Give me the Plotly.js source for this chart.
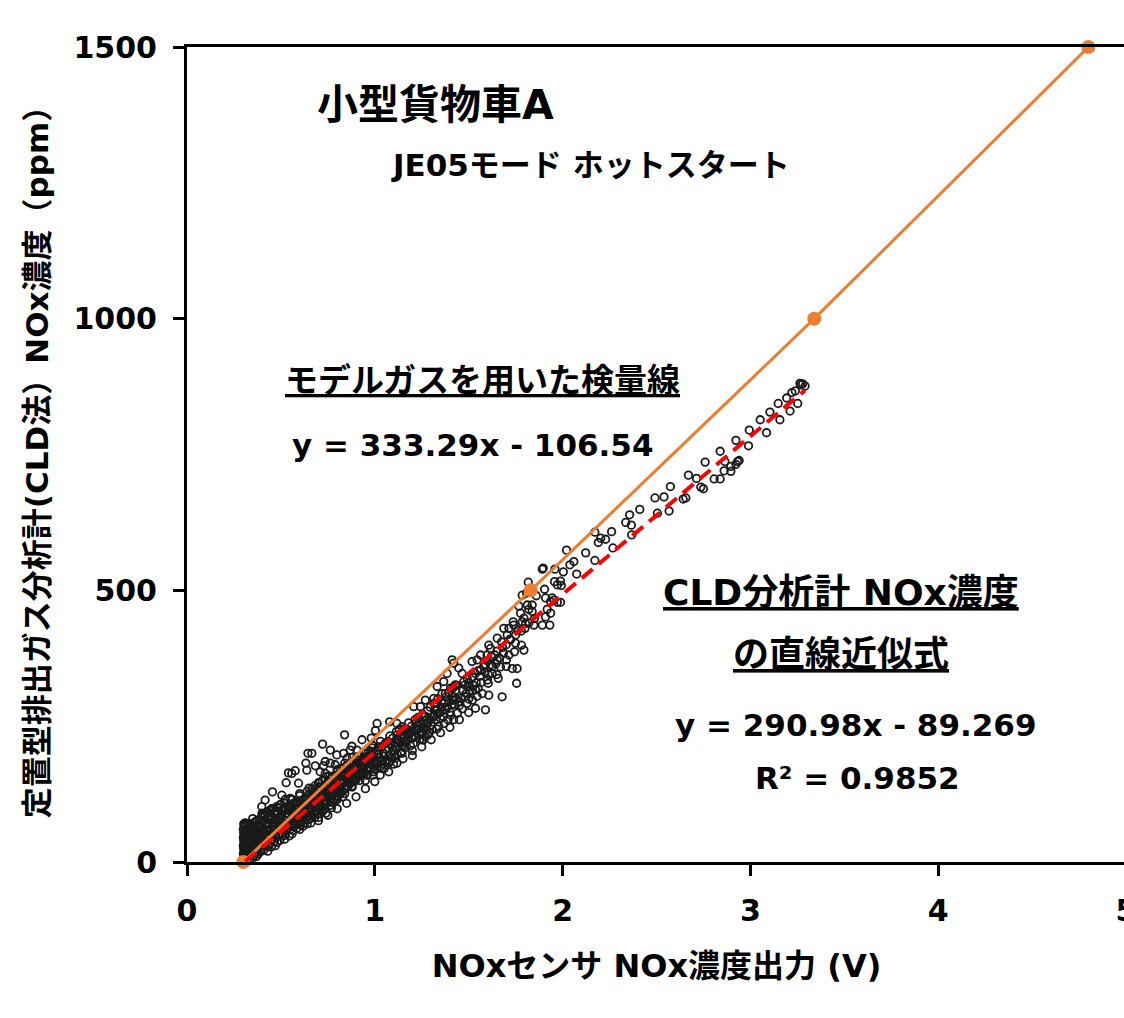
<!DOCTYPE html>
<html>
<head>
<meta charset="utf-8">
<script src="https://cdn.plot.ly/plotly-3.0.1.min.js"></script>
<style>html,body{margin:0;padding:0;overflow:hidden;background:#fff;}</style>
</head>
<body>
<div id="chart"></div>
<script>
// Calibration line with model gas (orange)
const calibX = [0.30, 1.83, 3.34, 4.80];
const calibY = [0, 500, 1000, 1500];
// Linear fit of CLD vs sensor (red dashed), end points
const fitX = [0.31, 3.29];
const fitY = [1, 868];
// Axis ticks
const xTicks = [0, 1, 2, 3, 4, 5];
const yTicks = [0, 500, 1000, 1500];

const denseLow = [
[0.30,2],[0.31,8],[0.30,15],[0.31,22],[0.30,30],[0.31,38],[0.30,45],[0.31,52],[0.30,60],[0.31,68],
[0.32,5],[0.32,18],[0.32,33],[0.33,48],[0.32,62],[0.33,12],[0.33,26],[0.34,40],[0.34,55],[0.34,70],
[0.35,8],[0.35,20],[0.36,33],[0.36,47],[0.36,62],[0.37,76],[0.38,15],[0.38,28],[0.39,42],[0.39,58],
[0.40,72],[0.40,86],[0.41,22],[0.42,35],[0.42,50],[0.43,65],[0.43,80],[0.44,95],[0.45,28],[0.45,42],
[0.46,57],[0.46,72],[0.47,88],[0.48,100],[0.48,36],[0.49,50],[0.50,64],[0.50,80],[0.51,95],[0.52,108],
[0.52,42],[0.53,58],[0.54,72],[0.54,88],[0.55,102],[0.56,115],[0.56,52],[0.57,66],[0.58,80],[0.58,96],
[0.59,110],[0.60,122],[0.60,60],[0.61,75],[0.62,90],[0.62,105],
[0.31,3],[0.33,35],[0.35,52],[0.37,10],[0.37,40],[0.38,65],[0.40,30],[0.41,55],[0.43,20],[0.44,48],
[0.47,30],[0.47,60],[0.49,75],[0.51,48],[0.53,90],[0.55,60],[0.57,100],[0.59,70],[0.61,92],[0.62,115]
];
const denseMid = [
[0.63,118],[0.64,130],[0.64,70],[0.65,85],[0.66,100],[0.66,114],[0.67,128],[0.68,140],[0.68,82],[0.69,96],
[0.70,110],[0.70,124],[0.71,138],[0.72,150],[0.72,92],[0.73,106],[0.74,120],[0.74,134],[0.75,148],[0.76,158],
[0.76,104],[0.77,118],[0.78,132],[0.78,146],[0.79,160],[0.80,170],[0.80,115],[0.81,130],[0.82,144],[0.82,158],
[0.83,172],[0.84,182],[0.84,126],[0.85,140],[0.86,154],[0.86,168],[0.87,182],[0.88,192],[0.88,138],[0.89,152],
[0.90,166],[0.90,180],[0.91,194],[0.92,150],[0.93,164],[0.94,178],[0.94,192],[0.95,204],[0.96,160],[0.97,175],
[0.98,190],[0.98,204],[0.99,214],[1.00,170],[1.01,184],[1.02,198],[1.02,212],[1.03,222],[1.04,180],[1.05,195],
[0.66,72],[0.70,82],[0.74,90],[0.65,108],[0.69,118],[0.73,140],[0.77,100],[0.79,140],[0.83,120],[0.87,145],
[0.91,160],[0.95,150],[0.99,160],[1.03,175]
];
const denseHigh = [
[1.06,208],[1.07,222],[1.08,232],[1.09,192],[1.10,206],[1.11,220],[1.12,234],[1.13,244],[1.14,202],[1.15,216],
[1.16,230],[1.17,244],[1.18,256],[1.19,214],[1.20,228],[1.21,242],[1.22,256],[1.23,266],[1.24,226],[1.25,240],
[1.26,254],[1.27,268],[1.28,278],[1.29,238],[1.30,252],[1.31,266],[1.32,280],[1.33,292],[1.34,250],[1.35,264],
[1.36,278],[1.37,292],[1.38,304],[1.39,262],[1.40,276],[1.41,290],[1.42,304],[1.43,316],[1.44,274],[1.45,288],
[1.46,302],[1.47,316],[1.48,326],[1.50,300],[1.52,315],[1.54,330],[1.56,342],[1.50,330],[1.52,340],[1.55,352],
[1.58,360],[1.60,370],[1.62,378],[1.65,388],[1.68,395],[1.70,400],[1.72,410],[1.75,418],[1.78,425],[1.80,430],
[1.82,440],[1.85,448],[1.55,320],[1.60,335],[1.65,345],[1.70,360],[1.48,305],[1.52,298],
[1.08,185],[1.12,198],[1.16,210],[1.20,205],[1.26,225],[1.33,245],[1.37,255],[1.42,262]
];
const denseFill = [
[0.305,5],[0.305,12],[0.305,20],[0.305,27],[0.305,35],[0.305,42],[0.305,50],[0.305,57],[0.305,65],[0.315,14],
[0.315,30],[0.315,45],[0.315,60],[0.325,10],[0.325,25],[0.325,40],[0.325,55],[0.325,70],[0.335,4],[0.335,19],
[0.335,58],[0.345,15],[0.345,30],[0.345,48],[0.345,63],[0.355,26],[0.355,40],[0.355,58],[0.355,72],
[0.365,18],[0.365,54],[0.375,24],[0.375,50],[0.375,66],[0.385,35],[0.385,52],[0.385,78],[0.395,20],[0.395,65],
[0.395,82],[0.405,40],[0.405,60],[0.415,30],[0.415,70],[0.415,88],[0.425,42],[0.425,58],[0.425,92],[0.435,28],
[0.435,72],[0.435,85],[0.445,35],[0.445,62],[0.455,50],[0.455,80],[0.455,98],[0.465,38],[0.465,65],[0.465,90],
[0.475,45],[0.475,78],[0.485,58],[0.485,92],[0.495,40],[0.495,68],[0.495,105],
[0.505,52],[0.505,88],[0.515,62],[0.515,78],[0.525,50],[0.525,98],[0.535,70],[0.535,82],[0.545,48],[0.545,95],
[0.555,68],[0.555,80],[0.565,58],[0.565,92],[0.565,108],[0.575,75],[0.575,88],[0.585,62],[0.585,105],[0.595,85],
[0.595,98],[0.605,68],[0.605,112],[0.615,82],[0.615,100],[0.625,72],[0.625,95],[0.635,88],[0.635,105],[0.645,78],
[0.645,115],[0.655,95],[0.655,122],[0.665,86],[0.665,135],[0.675,92],[0.675,110],[0.685,102],[0.685,125],[0.695,88],
[0.695,135],
[0.705,98],[0.705,145],[0.715,105],[0.715,120],[0.725,112],[0.725,130],[0.735,98],[0.735,150],[0.745,112],[0.745,140],
[0.755,118],[0.755,130],[0.765,110],[0.765,145],[0.775,125],[0.775,155],[0.785,115],[0.785,138],[0.795,128],[0.795,150],
[0.805,122],[0.805,160],[0.815,138],[0.815,150],[0.825,130],[0.825,165],[0.835,145],[0.835,160],[0.845,135],[0.845,170],
[0.855,150],[0.855,178],[0.865,145],[0.865,160],[0.875,155],[0.875,172],[0.885,148],[0.885,182],[0.895,160],[0.895,175],
[0.905,155],[0.905,188],[0.915,170],[0.915,182],[0.925,162],[0.925,195],[0.935,172],[0.935,186],[0.945,165],[0.945,200],
[0.955,180],[0.955,192],[0.965,172],[0.965,205],[0.975,185],[0.975,198],[0.985,178],[0.985,210],[0.995,192],[0.995,202],
[1.015,175],[1.015,205],[1.035,188],[1.035,212],[1.055,185],[1.055,218],[1.075,195],[1.075,210],[1.095,205],[1.095,228],
[1.115,212],[1.115,240],[1.135,218],[1.135,232],[1.155,222],[1.155,245],[1.175,225],[1.175,238],[1.195,230],[1.195,250],
[1.215,232],[1.215,262],[1.235,245],[1.235,258],[1.255,248],[1.255,272],[1.275,255],[1.275,262],[1.295,262],[1.295,285],
[1.315,270],[1.315,292],[1.335,272],[1.335,300],[1.355,285],[1.355,296],[1.375,282],[1.375,310],[1.395,295],[1.395,312],
[1.415,298],[1.415,320],[1.435,300],[1.435,325]
];
const denseInner = [
[0.302,9],[0.302,24],[0.302,39],[0.302,54],[0.302,70],[0.31,72],[0.35,80],[0.40,90],[0.45,98],[0.50,106],
[0.55,116],[0.60,126],[0.65,136],[0.70,146],[0.75,158],[0.80,168],[0.85,178],[0.90,190],[0.95,200],
[0.318,48],[0.328,18],[0.338,64],[0.348,38],[0.358,12],[0.368,44],[0.378,58],[0.388,22],[0.398,50],[0.408,76],
[0.418,46],[0.428,70],[0.438,56],[0.448,82],[0.458,64],[0.468,50],[0.478,92],[0.488,70],[0.498,86],[0.508,72],
[0.518,100],[0.528,66],[0.538,100],[0.548,76],[0.558,92],[0.568,72],[0.578,110],[0.588,88],[0.598,76],[0.608,100],
[0.618,66],[0.628,108],[0.638,94],[0.648,124],[0.658,80],[0.668,104],[0.678,120],[0.688,92],[0.698,116],[0.708,132],
[0.718,96],[0.728,122],[0.738,112],[0.748,126],[0.758,142],[0.768,124],[0.778,110],[0.788,150],[0.798,118],[0.808,140],
[0.818,126],[0.828,152],[0.838,134],[0.848,160],[0.858,140],[0.868,172],[0.878,140],[0.888,165],[0.898,150],[0.908,172],
[0.918,160],[0.928,180],[0.938,160],[0.948,188],[0.958,170],[0.968,190],[0.978,172],[0.988,196],[0.998,180],
[1.005,188],[1.025,192],[1.045,200],[1.065,188],[1.085,215],[1.105,198],[1.125,225],[1.145,215],[1.165,220],[1.185,235],
[1.205,218],[1.225,250],[1.245,235],[1.265,245],[1.285,258],[1.305,244],[1.325,262],[1.345,275],[1.365,268],[1.385,285],
[1.405,270],[1.425,290],[1.445,295],[1.465,282],[1.485,310],[1.505,315],[1.525,325],[1.545,305],[1.565,330],[1.585,350],
[1.605,345],[1.625,360],[1.645,365],[1.665,375],[1.685,385],
[1.05,172],[1.10,180],[1.15,190],[1.20,196],[1.25,212],[1.30,225],[1.35,238],[1.40,248],[1.45,262],[1.50,275],
[0.70,76],[0.75,86],[0.80,98],[0.85,108],[0.90,120],[0.95,135],[1.00,148]
];
const sparseLow = [
[1.012,255],[1.079,258],[1.003,242],[0.839,234],[0.932,225],[0.981,228],[0.878,213],[0.869,206],[0.722,217],[0.763,206],
[0.798,197],[0.834,200],[0.852,191],[0.905,206],[0.665,200],[0.683,177],[0.736,185],[0.763,182],[0.789,179],[0.816,172],
[0.709,166],[0.736,163],[1.118,255],[1.145,249],[1.172,234],[1.189,240],[1.225,243],[1.252,225],[1.269,231],[1.278,243],
[1.282,234],[1.118,225],[1.154,212],[1.145,200],[1.109,191],[1.074,182],[1.038,172],[1.118,182],[1.074,166],[1.029,160],
[0.994,166],[0.958,160],[0.644,200],[0.633,182],[0.727,177],[0.540,164],[0.576,168],[0.558,163],[0.638,169],[0.528,146],
[0.594,145],[0.455,129],[0.505,123],[0.523,115],[0.549,117],[0.416,114],[0.398,102],[0.478,102],[0.434,92],[0.336,65]
];
const sparseMid = [
[2.172,607],[2.190,588],[2.021,574],[2.123,569],[2.172,555],[2.060,553],[2.039,547],[1.897,541],[2.004,534],[2.075,530],
[1.957,516],[1.989,517],[1.972,510],[1.993,509],[1.817,515],[1.904,502],[1.785,491],[1.860,490],[1.909,486],[1.945,486],
[1.954,482],[1.936,479],[1.972,478],[1.989,478],[1.767,471],[1.812,473],[1.838,473],[1.820,465],[1.838,461],[1.918,465],
[1.936,458],[1.909,451],[1.776,458],[1.794,449],[1.785,442],[1.803,439],[1.737,442],[1.687,430],[1.714,430],[1.847,436],
[1.892,436],[1.932,436],[1.959,539],[1.892,539],[1.808,495],[1.740,436],[1.762,427],[1.705,418],[1.652,412],[1.675,405],
[1.723,409],[1.749,403],[1.781,399],[1.794,390],[1.744,387],[1.714,381],[1.701,372],[1.758,356],[1.732,356],[1.755,329],
[1.678,304],[1.607,399],[1.616,393],[1.598,381],[1.563,381],[1.639,381],[1.652,372],[1.669,359],[1.616,363],[1.589,363],
[1.625,347],[1.657,338],[1.604,329],[1.607,307],[1.545,372],[1.518,369],[1.563,353],[1.536,347],[1.492,338],[1.412,372],
[1.420,366],[1.447,357],[1.465,347],[1.474,332],[1.429,326],[1.403,320],[1.367,332],[1.385,347],[1.500,323],[1.536,317],
[1.572,310],[1.420,298],[1.358,310],[1.332,323],[1.314,301],[1.269,298],[1.243,286],[1.492,292],[1.536,283],[1.589,280],
[1.323,286],[1.207,286]
];
const sparseTail = [
[3.269,878],[3.278,880],[3.264,881],[3.291,876],[3.239,867],[3.221,864],[3.193,854],[3.252,844],[3.148,844],[3.211,830],
[3.104,828],[3.157,814],[3.052,814],[3.086,790],[2.994,795],[2.923,776],[2.990,766],[2.839,756],[2.864,737],[2.932,737],
[2.940,739],[2.923,732],[2.896,728],[2.860,720],[2.896,719],[2.759,736],[2.670,712],[2.713,706],[2.807,705],[2.839,705],
[2.736,690],[2.750,687],[2.574,691],[2.642,668],[2.656,670],[2.540,672],[2.492,670],[2.411,649],[2.567,646],[2.505,642],
[2.357,639],[2.336,625],[2.366,620],[2.261,608],[2.368,602],[2.229,594],[2.203,596],[2.268,578]
];

const allPts = [].concat(denseLow, denseMid, denseHigh, denseFill, denseInner, sparseLow, sparseMid, sparseTail);
const ptX = allPts.map(p => p[0]);
const ptY = allPts.map(p => p[1]);

const latin = 'DejaVu Sans, Noto Sans CJK JP, sans-serif';

const traces = [
  {
    type: 'scatter', mode: 'markers', x: ptX, y: ptY,
    marker: {symbol: 'circle-open', size: 7.5, color: '#1a1a1a', line: {width: 1.8, color: '#1a1a1a'}},
    hoverinfo: 'skip', showlegend: false
  },
  {
    type: 'scatter', mode: 'lines+markers', x: calibX, y: calibY,
    line: {color: '#ED7D31', width: 3},
    marker: {color: '#ED7D31', size: 14},
    cliponaxis: false, showlegend: false
  },
  {
    type: 'scatter', mode: 'lines', x: fitX, y: fitY,
    line: {color: '#FF0000', width: 4, dash: '14px,8px'},
    showlegend: false
  }
];

const tickFont = {family: latin, size: 30, color: '#000', weight: 'bold'};
const ann = (x, y, text, s) => ({
  xref: 'paper', yref: 'paper', x: x, y: y, text: text, showarrow: false,
  xanchor: 'center', yanchor: 'middle',
  font: {family: latin, size: s, color: '#000', weight: 'bold'}
});

const layout = {
  width: 1126, height: 1018,
  margin: {l: 187, r: 0, t: 47, b: 156},
  paper_bgcolor: '#fff', plot_bgcolor: '#fff',
  showlegend: false,
  xaxis: {
    range: [0, 5], tickvals: xTicks, ticktext: xTicks.map(String),
    showline: true, linewidth: 3, linecolor: '#000', mirror: true,
    ticks: 'outside', ticklen: 11, tickwidth: 3, tickcolor: '#000', ticklabelstandoff: 9,
    ticklabeloverflow: 'allow',
    showgrid: false, zeroline: false, tickfont: tickFont,
    title: {text: 'NOxセンサ NOx濃度出力 (V)', font: {family: latin, size: 32, color: '#000', weight: 'bold'}, standoff: 28}
  },
  yaxis: {
    range: [0, 1500], tickvals: yTicks, ticktext: yTicks.map(String),
    showline: true, linewidth: 3, linecolor: '#000',
    ticks: 'outside', ticklen: 11, tickwidth: 3, tickcolor: '#000', ticklabelstandoff: 10,
    showgrid: false, zeroline: false, tickfont: tickFont,
    title: {text: '定置型排出ガス分析計(CLD法）NOx濃度（ppm）', font: {family: latin, size: 31, color: '#000', weight: 'bold'}, standoff: 16}
  },
  annotations: [
    ann(0.265, 0.929, '小型貨物車A', 41),
    ann(0.430, 0.855, 'JE05モード ホットスタート', 31),
    ann(0.315, 0.591, '<u>モデルガスを用いた検量線</u>', 33),
    ann(0.304, 0.512, 'y = 333.29x - 106.54', 31),
    ann(0.696, 0.331, '<u>CLD分析計 NOx濃度</u>', 36),
    ann(0.696, 0.254, '<u>の直線近似式</u>', 36),
    ann(0.712, 0.168, 'y = 290.98x - 89.269', 31),
    ann(0.714, 0.103, 'R² = 0.9852', 31)
  ]
};

Plotly.newPlot('chart', traces, layout, {displayModeBar: false, staticPlot: true});
</script>
</body>
</html>
